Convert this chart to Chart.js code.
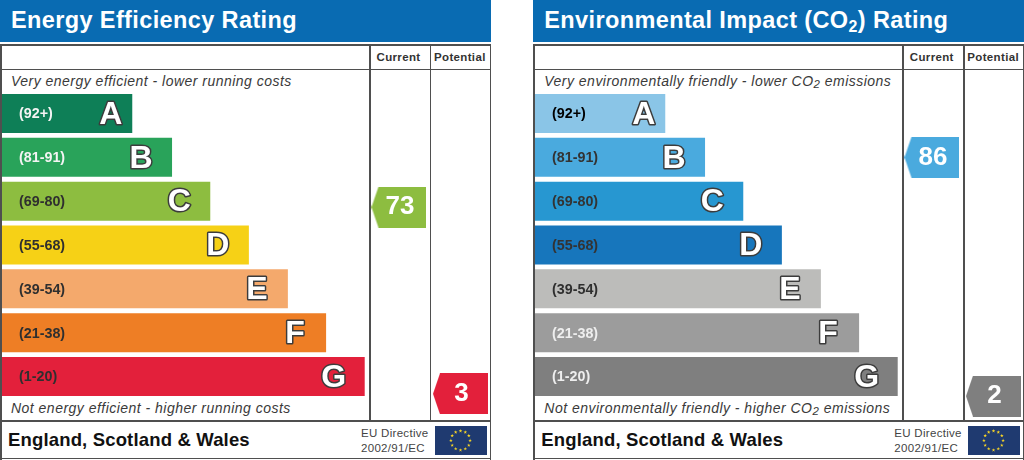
<!DOCTYPE html>
<html><head><meta charset="utf-8">
<script src="https://cdn.jsdelivr.net/npm/chart.js@4"></script>
<style>
html,body{margin:0;padding:0;background:#fff;width:1024px;height:460px;overflow:hidden;font-family:"Liberation Sans",Arial,sans-serif}
.p{position:absolute;top:0;width:491px;height:460px}
.p canvas{position:absolute;left:-3px;top:0;z-index:3}
.h{position:absolute;left:0;top:0;width:491px;height:41.5px;background:#096bb2}
.t{position:absolute;white-space:nowrap;line-height:1}
.title{left:11px;top:9px;font-size:23.5px;font-weight:bold;color:#fff;letter-spacing:.38px}
.title sub{font-size:.68em;line-height:0;vertical-align:-.25em}
.it sub{font-size:.82em;line-height:0;vertical-align:-.2em}
.l{position:absolute;background:#4f4f4f}
.col{font-size:11.5px;font-weight:bold;color:#333;top:51.5px;letter-spacing:.35px}
.it{font-size:14px;font-style:italic;color:#3a3a3a;left:11px;letter-spacing:.48px}
.foot{left:8px;top:431px;font-size:18.5px;font-weight:bold;color:#111;letter-spacing:.16px}
.eu{font-size:11.5px;color:#444;left:361px;letter-spacing:.3px}
svg{position:absolute;left:435px;top:426px}
</style></head><body>
<script>
// ---- data ----
const bandRanges = ["(92+)","(81-91)","(69-80)","(55-68)","(39-54)","(21-38)","(1-20)"];
const bandLetters = ["A","B","C","D","E","F","G"];
const bandTop = [100,91,80,68,54,38,20];
const bandBottom = [92,81,69,55,39,21,1];
const barLengths = [33.4,43.6,53.4,63.3,73.3,83.1,93];
const columnNames = ["Current","Potential"];

const energyTitle = "Energy Efficiency Rating";
const energyTopNote = "Very energy efficient - lower running costs";
const energyBottomNote = "Not energy efficient - higher running costs";
const energyColors = ["#0e7f57","#29a35a","#8dbd40","#f6d116","#f4a96c","#ee7e25","#e3203b"];
const energyTickColors = ["#f4f4f4","#f4f4f4","#2f2f2f","#2f2f2f","#2f2f2f","#2f2f2f","#2f2f2f"];
const energyScores = [73,3];

const co2Title = "Environmental Impact (CO<sub>2</sub>) Rating";
const co2TopNote = "Very environmentally friendly - lower CO<sub>2</sub> emissions";
const co2BottomNote = "Not environmentally friendly - higher CO<sub>2</sub> emissions";
const co2Colors = ["#8ac5e7","#4aaade","#2797d1","#1776bc","#bcbcba","#9c9c9c","#7f7f7f"];
const co2TickColors = ["#000","#333","#333","#333","#2f2f2f","#eee","#eee"];
const co2Scores = [86,2];

const footerText = "England, Scotland & Wales";
const directive = ["EU Directive","2002/91/EC"];

// ---- helpers ----
function bandIndex(s){ return bandTop.findIndex((t,i)=>s<=t && s>=bandBottom[i]); }
function bandPos(s){ const i=bandIndex(s); return i-0.5+(bandTop[i]-s)/(bandTop[i]-bandBottom[i]); }
function pointer(color){
  const c=document.createElement('canvas'); c.width=55; c.height=41;
  const g=c.getContext('2d'); g.fillStyle=color; g.beginPath();
  g.moveTo(0,20.5); g.lineTo(7,0); g.lineTo(55,0); g.lineTo(55,41); g.lineTo(7,41); g.closePath(); g.fill();
  return c;
}
const letterPlugin = {
  id:'letters',
  afterDatasetsDraw(chart){
    const ctx=chart.ctx, meta=chart.getDatasetMeta(0);
    ctx.save();
    ctx.font='bold 32px "Liberation Sans"'; ctx.textAlign='center'; ctx.textBaseline='middle'; ctx.lineJoin='round';
    meta.data.forEach((b,i)=>{
      const x=b.x-(i===0?21.5:31), y=b.y+1.5;
      ctx.lineWidth=3; ctx.strokeStyle='#3c3c3c'; ctx.strokeText(bandLetters[i],x,y);
      ctx.fillStyle='#fff'; ctx.fillText(bandLetters[i],x,y);
    });
    const pm=chart.getDatasetMeta(1), scores=chart.data.datasets[1].scores;
    ctx.font='bold 26px "Liberation Sans"'; ctx.fillStyle='#fff';
    pm.data.forEach((p,i)=>ctx.fillText(String(scores[i]),p.x+1,p.y));
    ctx.restore();
  }
};
function panel(left,title,top,bottom,colors,tickColors,scores){
  const p=document.createElement('div'); p.className='p'; p.style.left=left+'px';
  const line=(x,y,w,h)=>`<div class="l" style="left:${x}px;top:${y}px;width:${w}px;height:${h}px"></div>`;
  let stars='';
  for(let i=0;i<12;i++){
    const a=i*Math.PI/6, cx=25.5+9.6*Math.sin(a), cy=14.5-9.6*Math.cos(a);
    let pts=[]; for(let k=0;k<10;k++){const r=k%2?0.75:1.9, b=k*Math.PI/5; pts.push((cx+r*Math.sin(b)).toFixed(2)+','+(cy-r*Math.cos(b)).toFixed(2));}
    stars+=`<polygon points="${pts.join(' ')}" fill="#f5d327"/>`;
  }
  p.innerHTML=`<div class="h"></div><div class="t title">${title}</div>`
   +line(0,43.5,491,2)+line(0,43.5,2,416)+line(489.5,43.5,1.8,416)+line(0,457.5,491,1.6)
   +line(0,68.5,491,1.6)+line(0,420,491,1.8)+line(369.2,43.5,1.8,377)+line(429.5,43.5,1.8,377)
   +`<div class="t col" style="left:376.5px">${columnNames[0]}</div><div class="t col" style="left:434px">${columnNames[1]}</div>`
   +`<div class="t it" style="top:74px">${top}</div><div class="t it" style="top:401px">${bottom}</div>`
   +`<div class="t foot">${footerText}</div>`
   +`<div class="t eu" style="top:428px">${directive[0]}</div><div class="t eu" style="top:442.5px">${directive[1]}</div>`
   +`<svg width="52" height="29"><rect width="52" height="29" fill="#1f3a70"/>${stars}</svg>`;
  const cv=document.createElement('canvas'); cv.width=491; cv.height=460; p.appendChild(cv);
  document.body.appendChild(p);
  const markerColors=scores.map(s=>colors[bandIndex(s)]);
  new Chart(cv,{
    type:'bar',
    plugins:[letterPlugin],
    data:{labels:bandRanges,datasets:[
      {type:'bar',data:barLengths,backgroundColor:colors,borderWidth:0,grouped:false,barPercentage:.89,categoryPercentage:1,xAxisID:'x',yAxisID:'y'},
      {type:'scatter',indexAxis:'x',clip:false,scores:scores,data:scores.map((s,i)=>({x:i,y:bandPos(s)})),
       pointStyle:markerColors.map(pointer),xAxisID:'xCol',yAxisID:'yPos'}
    ]},
    options:{
      indexAxis:'y',responsive:false,animation:false,devicePixelRatio:1,
      layout:{padding:{left:2,right:1,top:91.6,bottom:61.6}},
      plugins:{legend:{display:false},tooltip:{enabled:false}},
      scales:{
        x:{type:'linear',display:false,min:0,max:123.33},
        xCol:{type:'linear',display:false,min:-6.455,max:1.366},
        yPos:{type:'linear',display:false,min:-.5,max:6.5,reverse:true,offset:false},
        y:{type:'category',position:'left',grid:{display:false},border:{display:false},
           afterFit:s=>{s.width=0},
           ticks:{mirror:true,padding:17,labelOffset:1,z:2,autoSkip:false,color:c=>tickColors[c.index],font:{family:'"Liberation Sans"',size:14.3,weight:'bold'}}}
      }
    }
  });
}
panel(0,energyTitle,energyTopNote,energyBottomNote,energyColors,energyTickColors,energyScores);
panel(533.3,co2Title,co2TopNote,co2BottomNote,co2Colors,co2TickColors,co2Scores);
</script>
</body></html>
